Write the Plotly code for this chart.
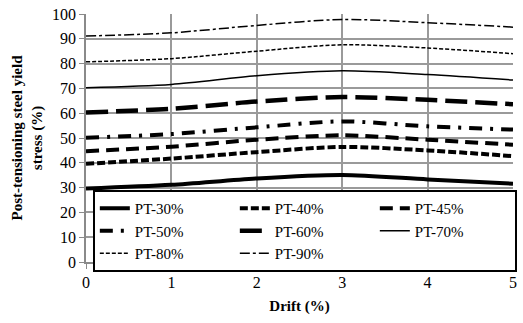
import plotly.graph_objects as go

# Drift levels (%)
drift = [0, 1, 2, 3, 4, 5]

# Post-tensioning steel stress (% of yield) for each initial PT level
pt30 = [29.6, 31.1, 33.7, 35.1, 33.3, 31.6]
pt40 = [39.6, 41.7, 44.3, 46.4, 45.0, 42.7]
pt45 = [44.7, 46.5, 49.3, 51.1, 49.3, 47.3]
pt50 = [50.1, 51.6, 54.3, 56.7, 54.7, 53.4]
pt60 = [60.3, 61.8, 64.7, 66.5, 65.4, 63.6]
pt70 = [70.3, 71.6, 75.1, 77.1, 75.6, 73.4]
pt80 = [80.7, 82.0, 85.0, 87.6, 86.3, 84.0]
pt90 = [91.1, 92.4, 95.4, 97.8, 96.5, 94.7]

names = ["PT-30%", "PT-40%", "PT-45%", "PT-50%", "PT-60%", "PT-70%", "PT-80%", "PT-90%"]
series = [pt30, pt40, pt45, pt50, pt60, pt70, pt80, pt90]
styles = [
    dict(width=4, dash="solid"),
    dict(width=4, dash="8px,3px"),
    dict(width=4, dash="13px,7px"),
    dict(width=4, dash="13px,8px,3px,8px"),
    dict(width=4.5, dash="22px,8px"),
    dict(width=1.5, dash="solid"),
    dict(width=1.5, dash="4px,2px"),
    dict(width=1.5, dash="10px,3px,3px,3px"),
]

fig = go.Figure()
for name, ys, st in zip(names, series, styles):
    fig.add_trace(go.Scatter(
        x=drift, y=ys, name=name, mode="lines",
        line=dict(color="black", shape="spline", smoothing=0.8, **st),
    ))

serif = "Liberation Serif, Times New Roman, serif"
fig.update_layout(
    width=523, height=323,
    margin=dict(l=86, r=6, t=13, b=61),
    paper_bgcolor="white", plot_bgcolor="white",
    font=dict(family=serif, size=16, color="black"),
    showlegend=True,
    legend=dict(
        orientation="h", x=0.016, y=0.29, xanchor="left", yanchor="top",
        entrywidth=95, entrywidthmode="pixels",
        bgcolor="white", bordercolor="black", borderwidth=2,
        font=dict(family=serif, size=15), tracegroupgap=0,
    ),
    xaxis=dict(
        range=[0, 5], dtick=1, tickmode="linear",
        showgrid=True, gridcolor="#9a9a9a", gridwidth=1.5,
        showline=True, linecolor="#8a8a8a", linewidth=1.5,
        ticks="outside", ticklen=5, tickcolor="#8a8a8a",
        zeroline=False,
        title=dict(text="<b>Drift (%)</b>", font=dict(family=serif, size=15), standoff=11),
    ),
    yaxis=dict(
        range=[0, 100], dtick=10, tickmode="linear",
        showgrid=True, gridcolor="#9a9a9a", gridwidth=1.5,
        showline=True, linecolor="#8a8a8a", linewidth=1.5,
        ticks="outside", ticklen=5, tickcolor="#8a8a8a",
        zeroline=False,
        title=dict(text="<b>Post-tensioning steel yield<br>stress (%)</b>",
                   font=dict(family=serif, size=15), standoff=6),
    ),
)

fig.write_html("out.html")
